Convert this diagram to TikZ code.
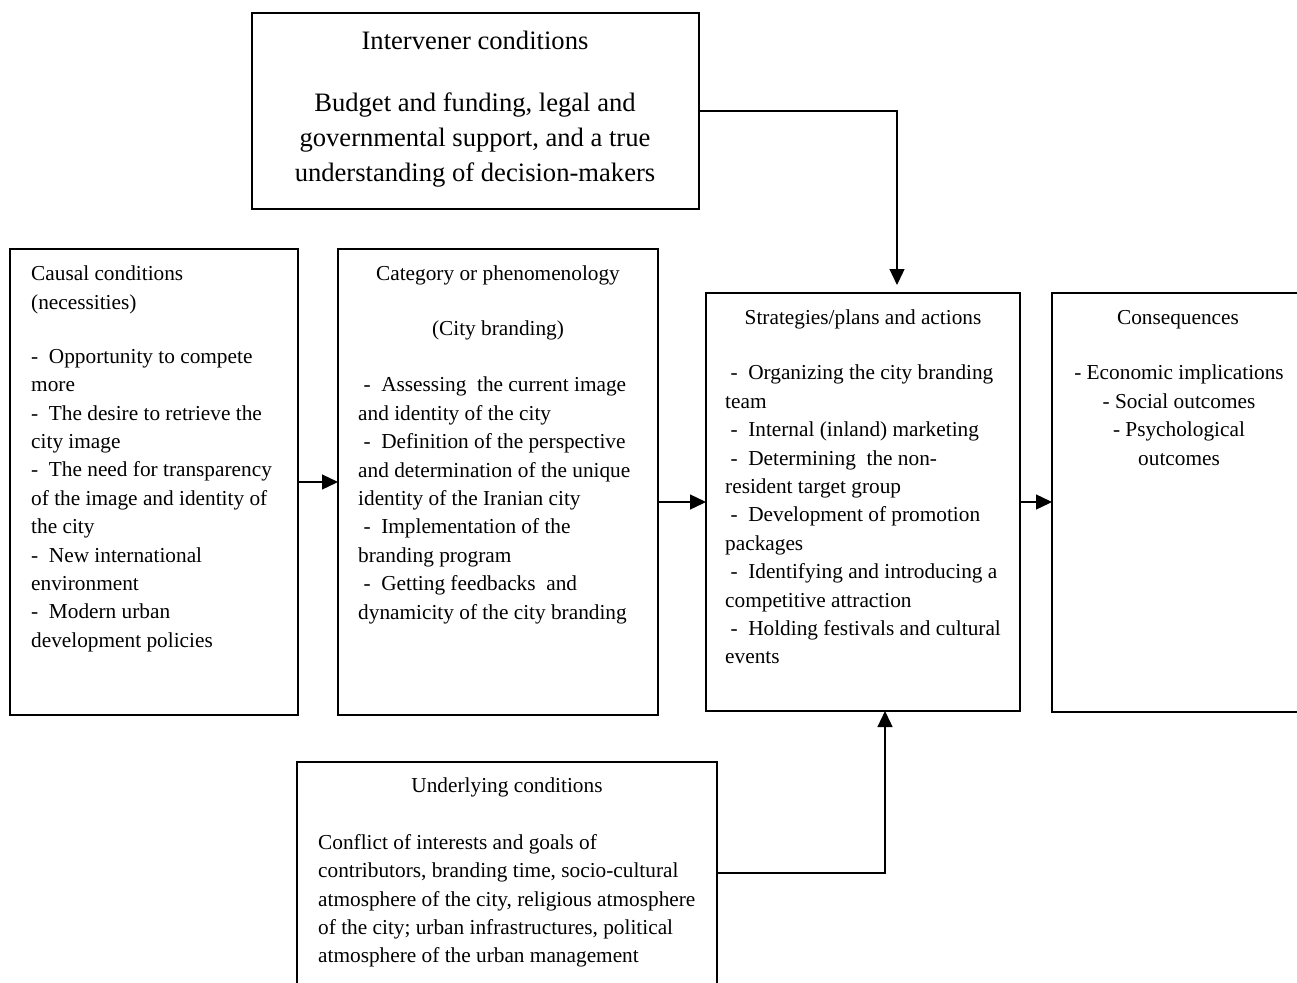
\documentclass[tikz,border=0pt]{standalone}
\usepackage{fontspec}
\setmainfont{Liberation Serif}
\usetikzlibrary{arrows.meta,calc}
\begin{document}
\begin{tikzpicture}[x=1pt,y=-1pt,
  box/.style={draw, line width=1.3pt, inner sep=0pt, outer sep=0pt, anchor=north west},
  txt/.style={inner sep=0pt, anchor=north west, align=left, font=\fontsize{21.3}{28.4}\selectfont},
  ctxt/.style={inner sep=0pt, anchor=north, align=center, font=\fontsize{21.3}{28.4}\selectfont},
  bigtxt/.style={inner sep=0pt, anchor=north, align=center, font=\fontsize{26.6}{35}\selectfont},
  link/.style={line width=1.3pt, -{Triangle[length=16pt,width=15pt]}}]
\clip (0,0) rectangle (1297,982);
\fill[white] (0,0) rectangle (1297,982);
% boxes
\node[box, minimum width=447pt, minimum height=196pt] (inter) at (252,13) {};
\node[box, minimum width=288pt, minimum height=466pt] (causal) at (10,249) {};
\node[box, minimum width=320pt, minimum height=466pt] (cat) at (338,249) {};
\node[box, minimum width=314pt, minimum height=418pt] (strat) at (706,293) {};
\node[box, minimum width=270pt, minimum height=419pt] (cons) at (1052,293) {};
\node[box, minimum width=420pt, minimum height=222pt] (under) at (297,762) {};
% texts
\node[bigtxt] (interT) at (475,31) {Intervener conditions};
\node[bigtxt] (interB) at (475,93) {Budget and funding, legal and\\governmental support, and a true\\understanding of decision-makers};
\node[txt] (causalT) at (31,266) {Causal conditions\\(necessities)\\[25.5pt]-~~Opportunity to compete\\more\\-~~The desire to retrieve the\\city image\\-~~The need for transparency\\of the image and identity of\\the city\\-~~New international\\environment\\-~~Modern urban\\development policies};
\node[ctxt] (catT) at (498,266) {Category or phenomenology};
\node[ctxt] (catS) at (498,321) {(City branding)};
\node[txt] (catB) at (358,377) {~-~~Assessing~~the current image\\and identity of the city\\~-~~Definition of the perspective\\and determination of the unique\\identity of the Iranian city\\~-~~Implementation of the\\branding program\\~-~~Getting feedbacks~~and\\dynamicity of the city branding};
\node[ctxt] (stratT) at (863,310) {Strategies/plans and actions};
\node[txt] (stratB) at (725,365) {~-~~Organizing the city branding\\team\\~-~~Internal (inland) marketing\\~-~~Determining~~the non-\\resident target group\\~-~~Development of promotion\\packages\\~-~~Identifying and introducing a\\competitive attraction\\~-~~Holding festivals and cultural\\events};
\node[ctxt] (consT) at (1178,310) {Consequences};
\node[ctxt] (consB) at (1179,365) {- Economic implications\\- Social outcomes\\- Psychological\\outcomes};
\node[ctxt] (underT) at (507,778) {Underlying conditions};
\node[txt] (underB) at (318,834) {Conflict of interests and goals of\\contributors, branding time, socio-cultural\\atmosphere of the city, religious atmosphere\\of the city; urban infrastructures, political\\atmosphere of the urban management};
% connectors
\coordinate (t1) at (897,285);
\draw[link] (inter.east) -| (t1);
\draw[link] (causal.east) -- (cat.west);
\draw[link] (cat.east |- strat.west) -- (strat.west);
\draw[link] (strat.east) -- (strat.east -| cons.west);
\draw[link] (under.east) -| ($(strat.south)+(22,0)$);
\end{tikzpicture}
\end{document}
